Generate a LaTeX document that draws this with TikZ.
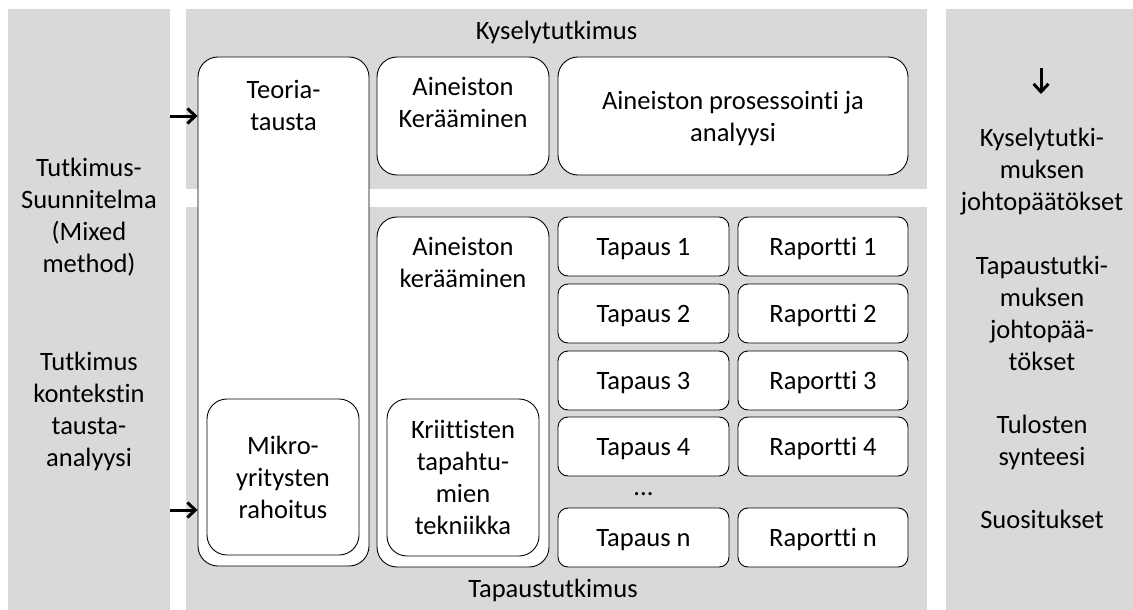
\documentclass[tikz,border=0pt]{standalone}
\usepackage{fontspec}
\setmainfont{Carlito}[Ligatures={NoCommon,NoContextual}]
\usetikzlibrary{arrows.meta}
\newcommand\mystrut{\rule[-7pt]{0pt}{32pt}}
\definecolor{panelgray}{HTML}{D9D9D9}
\begin{document}
\begin{tikzpicture}[x=1pt,y=-1pt,
  every node/.style={font=\fontsize{26.5}{32}\selectfont, text=black},
  panel/.style={fill=panelgray, draw=none, inner sep=0pt, outer sep=0pt, rectangle},
  bigbox/.style={draw=black, line width=0.9pt, fill=white, rounded corners=20pt, inner sep=0pt, align=center},
  smallbox/.style={draw=black, line width=0.9pt, fill=white, rounded corners=10pt, inner sep=0pt, minimum width=171pt, minimum height=59pt},
  txt/.style={inner sep=0pt, align=center},
  arr/.style={draw=black, line width=3pt, -{Straight Barb[length=8pt,width=15pt,line width=3pt]}},
]
% canvas
\path[use as bounding box, fill=white] (0,0) rectangle (1133,610);

% panels
\node[panel, minimum width=162pt, minimum height=601pt] (lp) at (89,309.5) {};
\node[panel, minimum width=741pt, minimum height=180pt] (kp) at (556.5,99) {};
\node[panel, minimum width=741pt, minimum height=403pt] (tp) at (556.5,408.5) {};
\node[panel, minimum width=187pt, minimum height=601pt] (rp) at (1039.5,309.5) {};

% panel titles
\node[txt, anchor=base] (kyt) at (556.5,40) {Kyselytutkimus};
\node[txt, anchor=base] (tat) at (553,597) {Tapaustutkimus};

% left panel texts
\node[txt, anchor=north] (lt1) at (89,151) {\mystrut Tutkimus-\\Suunnitelma\\(Mixed\\method)};
\node[txt, anchor=north] (lt2) at (89,345) {\mystrut Tutkimus\\kontekstin\\tausta-\\analyysi};

% right panel texts
\node[txt, anchor=north] (rt1) at (1042,121) {\mystrut Kyselytutki-\\muksen\\johtopäätökset};
\node[txt, anchor=north] (rt2) at (1042,249) {\mystrut Tapaustutki-\\muksen\\johtopää-\\tökset};
\node[txt, anchor=north] (rt3) at (1042,408) {\mystrut Tulosten\\synteesi};
\node[txt, anchor=north] (rt4) at (1042,503) {\mystrut Suositukset};
\coordinate (d1) at (1041,68);
\coordinate (d2) at (1041,94);
\draw[arr] (d1) -- (d2);

% theory column
\node[bigbox, minimum width=171pt, minimum height=509pt] (teoria) at (283.5,311.5) {};
\node[txt, anchor=north] (teoriat) at (283.5,73) {\mystrut Teoria-\\tausta};
\node[bigbox, minimum width=152pt, minimum height=156pt] (mikro) at (283,477) {\mystrut Mikro-\\yritysten\\rahoitus\mystrut};

% survey row
\node[bigbox, minimum width=172pt, minimum height=118pt] (kerA) at (463,116) {};
\node[txt, anchor=north] (kerAt) at (463,70) {\mystrut Aineiston\\Kerääminen};
\node[bigbox, minimum width=350pt, minimum height=118pt] (prosA) at (733,116) {\mystrut Aineiston prosessointi ja\\analyysi\mystrut};

% case study
\node[bigbox, minimum width=172pt, minimum height=350pt] (kerB) at (463,392) {};
\node[txt, anchor=north] (kerBt) at (463,230) {\mystrut Aineiston\\kerääminen};
\node[bigbox, minimum width=152pt, minimum height=157pt] (krit) at (463,477.5) {\mystrut Kriittisten\\tapahtu-\\mien\\tekniikka\mystrut};

\node[smallbox] (t1) at (643.5,246.5) {\mystrut Tapaus 1};
\node[smallbox] (t2) at (643.5,313.5) {\mystrut Tapaus 2};
\node[smallbox] (t3) at (643.5,380.5) {\mystrut Tapaus 3};
\node[smallbox] (t4) at (643.5,446.5) {\mystrut Tapaus 4};
\node[smallbox] (tn) at (643.5,537.5) {\mystrut Tapaus n};
\node[txt, anchor=base] (dots) at (643.5,495) {...};

\node[smallbox, minimum width=170pt] (r1) at (823,246.5) {\mystrut Raportti 1};
\node[smallbox, minimum width=170pt] (r2) at (823,313.5) {\mystrut Raportti 2};
\node[smallbox, minimum width=170pt] (r3) at (823,380.5) {\mystrut Raportti 3};
\node[smallbox, minimum width=170pt] (r4) at (823,446.5) {\mystrut Raportti 4};
\node[smallbox, minimum width=170pt] (rn) at (823,537.5) {\mystrut Raportti n};

% input arrows
\coordinate (a1) at (0,116);
\coordinate (a2) at (0,510);
\draw[arr] (lp.east |- a1) -- (teoria.west |- a1);
\draw[arr] (lp.east |- a2) -- (teoria.west |- a2);
\end{tikzpicture}
\end{document}
